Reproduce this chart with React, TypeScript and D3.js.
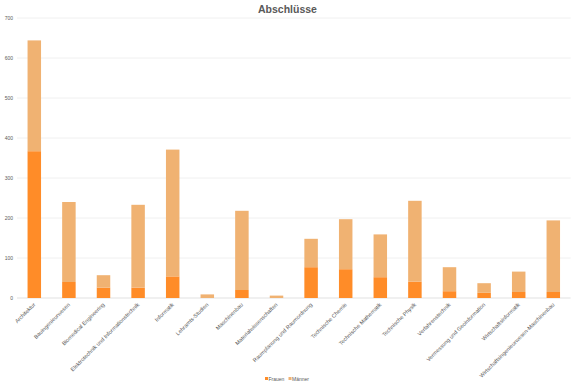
import React from "react";
import * as d3 from "d3";

const categories = [
  "Architektur",
  "Bauingenieurwesen",
  "Biomedical Engineering",
  "Elektrotechnik und Informationstechnik",
  "Informatik",
  "Lehramts-Studien",
  "Maschinenbau",
  "Materialwissenschaften",
  "Raumplanung und Raumordnung",
  "Technische Chemie",
  "Technische Mathematik",
  "Technische Physik",
  "Verfahrenstechnik",
  "Vermessung und Geoinformation",
  "Wirtschaftsinformatik",
  "Wirtschaftsingenieurwesen-Maschinenbau",
];
const frauen = [367, 40, 26, 26, 54, 0, 20, 0, 77, 72, 52, 41, 17, 13, 15, 15];
const maenner = [277, 200, 31, 207, 317, 9, 198, 6, 71, 125, 107, 202, 60, 24, 51, 179];
const seriesNames = ["Frauen", "Männer"];
const seriesColors = ["#FF8C28", "#F0B272"];
const yTicks = [0, 100, 200, 300, 400, 500, 600, 700];

const W = 575;
const H = 384;
const left = 17;
const right = 570.6;
const top = 18;
const bottom = 298;

export default function App() {
  const rows = categories.map((c, i) => ({ cat: c, Frauen: frauen[i], Männer: maenner[i] }));
  const stack = d3.stack<any>().keys(seriesNames)(rows);
  const x = d3
    .scaleBand<string>()
    .domain(categories)
    .range([left, right])
    .paddingInner(0.61)
    .paddingOuter(0.305);
  const y = d3.scaleLinear().domain([0, 700]).range([bottom, top]);
  const font = "Arial, 'Liberation Sans', sans-serif";
  const grey = "#595959";

  return (
    <svg
      width={W}
      height={H}
      style={{ position: "absolute", left: 0, top: 0, background: "#fff" }}
      fontFamily={font}
    >
      <rect x={0} y={0} width={W} height={H} fill="#fff" />
      <text x={287.5} y={12.5} textAnchor="middle" fontSize={10.5} fontWeight="bold" fill={grey}>
        Abschlüsse
      </text>
      {yTicks.map((t) => (
        <g key={t}>
          <line
            x1={left}
            x2={right}
            y1={y(t)}
            y2={y(t)}
            stroke={t === 0 ? "#d9d9d9" : "#ececec"}
            strokeWidth={0.8}
          />
          <text x={13} y={y(t) + 1.8} textAnchor="end" fontSize={5} fill={grey}>
            {t}
          </text>
        </g>
      ))}
      {stack.map((s, si) => (
        <g key={s.key} fill={seriesColors[si]}>
          {s.map((d, i) => (
            <rect
              key={i}
              x={x(categories[i])}
              width={x.bandwidth()}
              y={y(d[1])}
              height={Math.max(0, y(d[0]) - y(d[1]))}
            />
          ))}
        </g>
      ))}
      {categories.map((c) => {
        const cx = (x(c) as number) + x.bandwidth() / 2;
        return (
          <text
            key={c}
            transform={`translate(${cx + 1.5},${bottom + 7}) rotate(-45)`}
            textAnchor="end"
            fontSize={5.5}
            fill={grey}
          >
            {c}
          </text>
        );
      })}
      <g fontSize={5} fill={grey}>
        <rect x={265} y={377} width={3} height={3} fill={seriesColors[0]} />
        <text x={268.5} y={380.5}>Frauen</text>
        <rect x={288.5} y={377} width={3} height={3} fill={seriesColors[1]} />
        <text x={292} y={380.5}>Männer</text>
      </g>
    </svg>
  );
}
